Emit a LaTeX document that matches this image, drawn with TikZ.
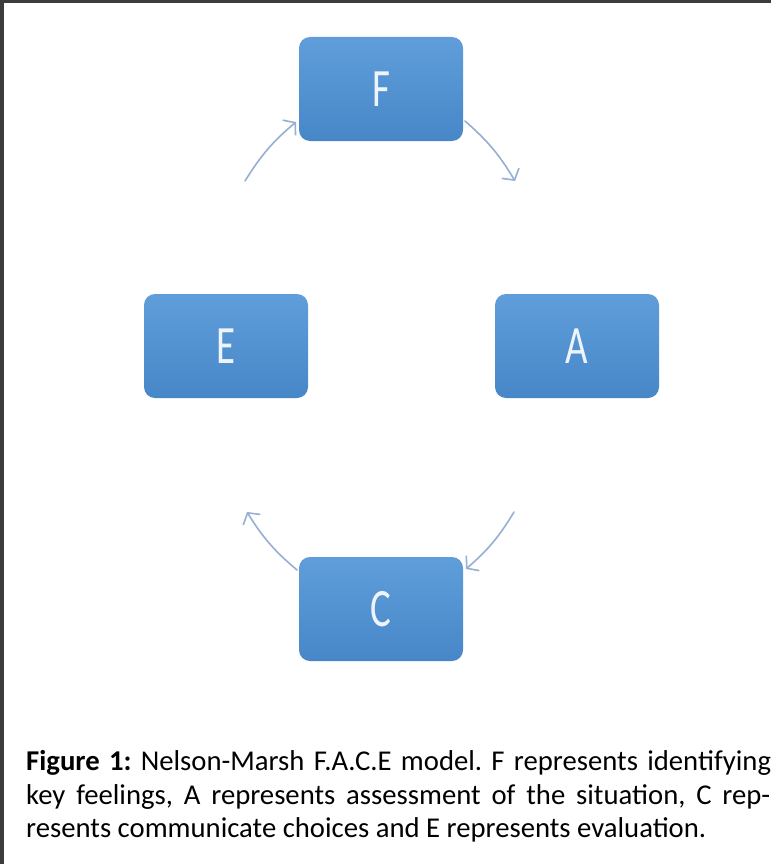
\documentclass[tikz,border=0pt]{standalone}
\usepackage{fontspec}
\setmainfont{Carlito}
\usetikzlibrary{arrows.meta,shadings}
\definecolor{boxtop}{HTML}{5F9EDA}
\definecolor{boxbot}{HTML}{4787C8}
\definecolor{arrowc}{HTML}{96AFD3}
\definecolor{frame}{HTML}{3C3C3C}
\definecolor{lettc}{HTML}{EEF4FB}
\tikzset{
  facebox/.style={rounded corners=11pt, top color=boxtop, bottom color=boxbot,
    draw=none, minimum width=164pt, minimum height=104pt, inner sep=0pt,
    text=lettc, font=\fontsize{54}{60}\selectfont},
  cyc/.style={draw=arrowc, line width=1.6pt, line cap=round,
    -{Straight Barb[length=8pt,width=20pt,line width=1.6pt]}, bend left=9},
  capline/.style={anchor=base west, inner sep=0pt, text=black}
}
\newcommand{\narrow}[1]{\scalebox{0.72}[1]{#1}}
\newlength\Lw
\frenchspacing
\begin{document}
\settowidth\Lw{\fontsize{10pt}{12pt}\selectfont resents communicate choices and E represents evaluation.}%
\pgfmathsetmacro\capfs{10*680/\Lw}%
\pgfmathsetmacro\capls{\capfs*1.2}%
\begin{tikzpicture}[x=1pt,y=1pt]
\useasboundingbox (0,0) rectangle (771,-864);
\fill[white] (0,0) rectangle (771,-864);
\fill[frame] (0,0) rectangle (4,-864);
\fill[frame] (0,0) rectangle (771,-3);
% boxes
\node[facebox] (F) at (381,-89)  {\narrow{F}};
\node[facebox] (E) at (226,-346) {\narrow{E}};
\node[facebox] (A) at (577,-346) {\narrow{A}};
\node[facebox] (C) at (381,-609) {\narrow{C}};
% arrow end points
\coordinate (ef1) at (245,-181);
\coordinate (ef2) at (296,-122);
\coordinate (fa1) at (465,-121);
\coordinate (fa2) at (515,-181);
\coordinate (ac1) at (514,-512);
\coordinate (ac2) at (466,-569);
\coordinate (ce1) at (297,-570);
\coordinate (ce2) at (247,-512);
\draw[cyc] (ef1) to (ef2);
\draw[cyc] (fa1) to (fa2);
\draw[cyc] (ac1) to (ac2);
\draw[cyc] (ce1) to (ce2);
% caption
\node[capline] (cap1) at (26,-770) {\fontsize{\capfs pt}{\capls pt}\selectfont\makebox[745pt][s]{\textbf{Figure 1:} Nelson-Marsh F.A.C.E model. F represents identifying}};
\node[capline] (cap2) at (26,-804) {\fontsize{\capfs pt}{\capls pt}\selectfont\makebox[744pt][s]{key feelings, A represents assessment of the situation, C rep-}};
\node[capline] (cap3) at (26,-837) {\fontsize{\capfs pt}{\capls pt}\selectfont resents communicate choices and E represents evaluation.};
\end{tikzpicture}
\end{document}
